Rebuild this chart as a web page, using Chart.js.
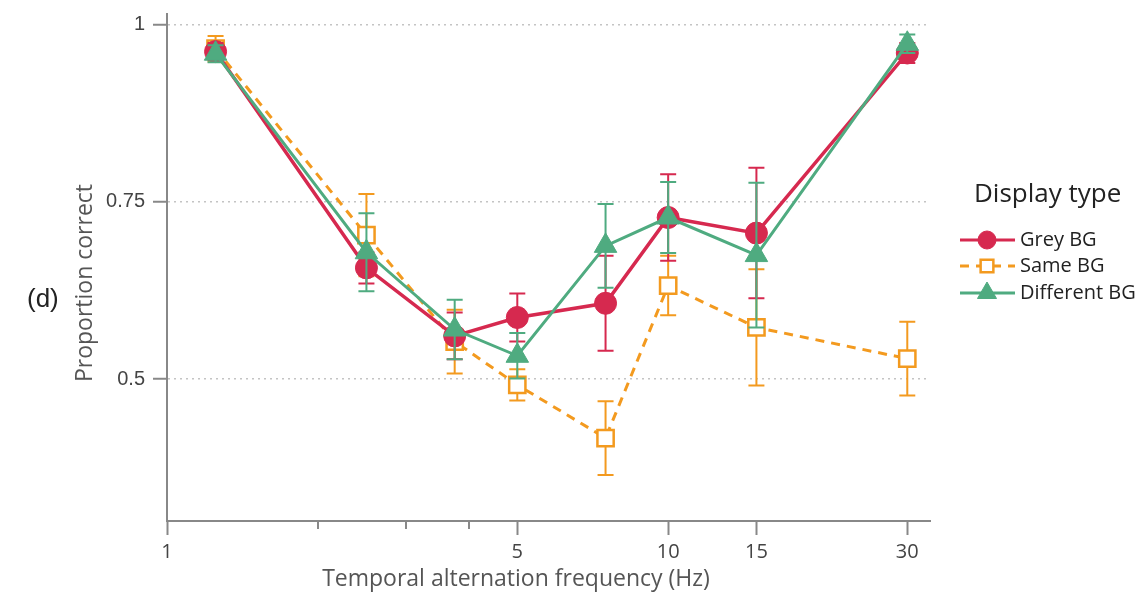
<!DOCTYPE html>
<html><head><meta charset="utf-8">
<script src="https://cdn.jsdelivr.net/npm/chart.js@4.4.1/dist/chart.umd.min.js"></script>
<style>html,body{margin:0;padding:0;background:#fff;}canvas{display:block;}</style>
</head><body>
<canvas id="c" width="1142" height="601"></canvas>
<script>
const frequencies = [1.25, 2.5, 3.75, 5, 7.5, 10, 15, 30];
const greyBG    = [0.962, 0.657, 0.561, 0.587, 0.607, 0.728, 0.706, 0.960];
const greyBGErr = [0.012, 0.022, 0.033, 0.034, 0.067, 0.061, 0.092, 0.014];
const sameBG    = [0.966, 0.703, 0.553, 0.492, 0.417, 0.632, 0.573, 0.529];
const sameBGErr = [0.018, 0.058, 0.045, 0.022, 0.052, 0.042, 0.082, 0.052];
const diffBG    = [0.959, 0.679, 0.570, 0.533, 0.688, 0.728, 0.675, 0.973];
const diffBGErr = [0.012, 0.055, 0.042, 0.032, 0.059, 0.050, 0.102, 0.013];
const seriesLabels = ['Grey BG', 'Same BG', 'Different BG'];
const xTickValues = [1, 2, 3, 4, 5, 10, 15, 30];
const xTickLabels = ['1', '', '', '', '5', '10', '15', '30'];
const yTickValues = [0.5, 0.75, 1];
const yTickLabels = ['0.5', '0.75', '1'];
const xTitle = 'Temporal alternation frequency (Hz)';
const yTitle = 'Proportion correct';
const legendTitle = 'Display type';
const panelLabel = '(d)';

const RED = '#d6294f', ORANGE = '#f39a1f', GREEN = '#4fab80';

function pts(vals) { return vals.map((v, i) => ({x: frequencies[i], y: v})); }

const errs = [greyBGErr, sameBGErr, diffBGErr];

const errorBars = {
  id: 'errorBars',
  beforeDatasetDraw(chart, args) {
    const {ctx, scales: {x, y}} = chart;
    const ds = chart.data.datasets[args.index];
    const e = errs[args.index];
    ctx.save();
    ctx.strokeStyle = ds.borderColor;
    ctx.lineWidth = 2;
    ctx.setLineDash([]);
    ds.data.forEach((p, i) => {
      const px = x.getPixelForValue(p.x);
      const t = y.getPixelForValue(p.y + e[i]);
      const b = y.getPixelForValue(p.y - e[i]);
      ctx.beginPath();
      ctx.moveTo(px, t); ctx.lineTo(px, b);
      ctx.moveTo(px - 8, t); ctx.lineTo(px + 8, t);
      ctx.moveTo(px - 8, b); ctx.lineTo(px + 8, b);
      ctx.stroke();
    });
    ctx.restore();
  }
};

function marker(ctx, style, x, y, r, fill, stroke, lw) {
  ctx.save();
  ctx.setLineDash([]);
  ctx.fillStyle = fill; ctx.strokeStyle = stroke; ctx.lineWidth = lw;
  ctx.beginPath();
  if (style === 'circle') {
    ctx.arc(x, y, r, 0, Math.PI * 2);
  } else if (style === 'rect') {
    const s = r * Math.SQRT1_2;
    ctx.rect(x - s, y - s, 2 * s, 2 * s);
  } else {
    for (let k = 0; k < 3; k++) {
      const a = k * 2 * Math.PI / 3;
      const px = x + Math.sin(a) * r, py = y - Math.cos(a) * r;
      k ? ctx.lineTo(px, py) : ctx.moveTo(px, py);
    }
    ctx.closePath();
  }
  ctx.fill(); ctx.stroke();
  ctx.restore();
}

const annotations = {
  id: 'annotations',
  afterDraw(chart) {
    const {ctx, scales: {x}} = chart;
    ctx.save();
    // minor x ticks
    ctx.strokeStyle = '#888'; ctx.lineWidth = 2;
    xTickValues.forEach((v, i) => {
      if (xTickLabels[i] === '') {
        const px = Math.round(x.getPixelForValue(v));
        ctx.beginPath(); ctx.moveTo(px, x.top); ctx.lineTo(px, x.top + 8); ctx.stroke();
      }
    });
    // panel label
    ctx.fillStyle = '#222';
    ctx.font = '26px "Liberation Sans", Arial, sans-serif';
    ctx.textAlign = 'left'; ctx.textBaseline = 'middle';
    ctx.fillText(panelLabel, 27, 300);
    // axis titles
    ctx.fillStyle = '#555';
    ctx.font = '23px "Open Sans", sans-serif';
    ctx.textAlign = 'center';
    ctx.fillText(xTitle, 516, 579);
    ctx.save();
    ctx.translate(85, 283); ctx.rotate(-Math.PI / 2);
    ctx.fillText(yTitle, 0, 0);
    ctx.restore();
    // legend
    ctx.fillStyle = '#222';
    ctx.textAlign = 'left';
    ctx.font = '26px "Open Sans", sans-serif';
    ctx.fillText(legendTitle, 974, 195);
    ctx.font = '20px "Open Sans", sans-serif';
    const rows = [240, 266, 293];
    chart.data.datasets.forEach((ds, i) => {
      const yy = rows[i];
      ctx.save();
      ctx.strokeStyle = ds.borderColor; ctx.lineWidth = 3;
      ctx.setLineDash(ds.borderDash || []);
      ctx.beginPath(); ctx.moveTo(960, yy); ctx.lineTo(1015, yy); ctx.stroke();
      ctx.restore();
      const r = ds.pointStyle === 'circle' ? 9 : (ds.pointStyle === 'rect' ? 9 : 11);
      marker(ctx, ds.pointStyle, 987, yy, r, ds.pointBackgroundColor, ds.borderColor, ds.pointBorderWidth);
      ctx.fillStyle = '#222';
      ctx.fillText(ds.label, 1020, yy);
    });
    ctx.restore();
  }
};

new Chart(document.getElementById('c'), {
  type: 'line',
  data: {
    datasets: [
      {label: seriesLabels[0], data: pts(greyBG), borderColor: RED, borderWidth: 3.5,
       pointStyle: 'circle', pointRadius: 11, pointBackgroundColor: RED, pointBorderColor: RED, pointBorderWidth: 1,
       order: 1, clip: false},
      {label: seriesLabels[1], data: pts(sameBG), borderColor: ORANGE, borderWidth: 3, borderDash: [9, 7],
       pointStyle: 'rect', pointRadius: 11.5, pointBackgroundColor: '#ffffff', pointBorderColor: ORANGE, pointBorderWidth: 2.5,
       order: 2, clip: false},
      {label: seriesLabels[2], data: pts(diffBG), borderColor: GREEN, borderWidth: 3,
       pointStyle: 'triangle', pointRadius: 13, pointBackgroundColor: GREEN, pointBorderColor: GREEN, pointBorderWidth: 1,
       order: 0, clip: false}
    ]
  },
  options: {
    responsive: false, animation: false, devicePixelRatio: 1,
    layout: {padding: {left: 0, top: 12, right: 212, bottom: 0}},
    plugins: {legend: {display: false}, tooltip: {enabled: false}},
    elements: {line: {tension: 0}},
    scales: {
      x: {
        type: 'logarithmic', min: 1, max: 33.3,
        afterBuildTicks: s => { s.ticks = xTickValues.map(v => ({value: v})); },
        afterFit: s => { s.height = 80; s.paddingLeft = 0; s.paddingRight = 0; },
        ticks: {autoSkip: false, maxRotation: 0, minRotation: 0, padding: 5, color: '#444',
          font: {family: '"Open Sans", sans-serif', size: 20},
          callback: v => { const i = xTickValues.indexOf(v); return i >= 0 ? xTickLabels[i] : ''; }},
        grid: {drawOnChartArea: false, drawTicks: true, tickLength: 14, tickWidth: 2,
          tickColor: c => (c.tick && xTickLabels[xTickValues.indexOf(c.tick.value)] === '') ? 'rgba(0,0,0,0)' : '#888'},
        border: {display: true, color: '#888', width: 2}
      },
      y: {
        type: 'linear', min: 0.3, max: 1.015,
        afterBuildTicks: s => { s.ticks = yTickValues.map(v => ({value: v})); },
        afterFit: s => { s.width = 167; s.paddingTop = 0; s.paddingBottom = 0; },
        ticks: {padding: 8, color: '#444', font: {family: '"Liberation Sans", Arial, sans-serif', size: 20},
          callback: v => { const i = yTickValues.indexOf(v); return i >= 0 ? yTickLabels[i] : ''; }},
        grid: {color: '#c4c4c4', lineWidth: 1.5, drawTicks: true, tickLength: 14, tickWidth: 2, tickColor: '#888', tickBorderDash: []},
        border: {display: true, color: '#888', width: 2, dash: [2, 4]}
      }
    }
  },
  plugins: [errorBars, annotations]
});
</script>
</body></html>
